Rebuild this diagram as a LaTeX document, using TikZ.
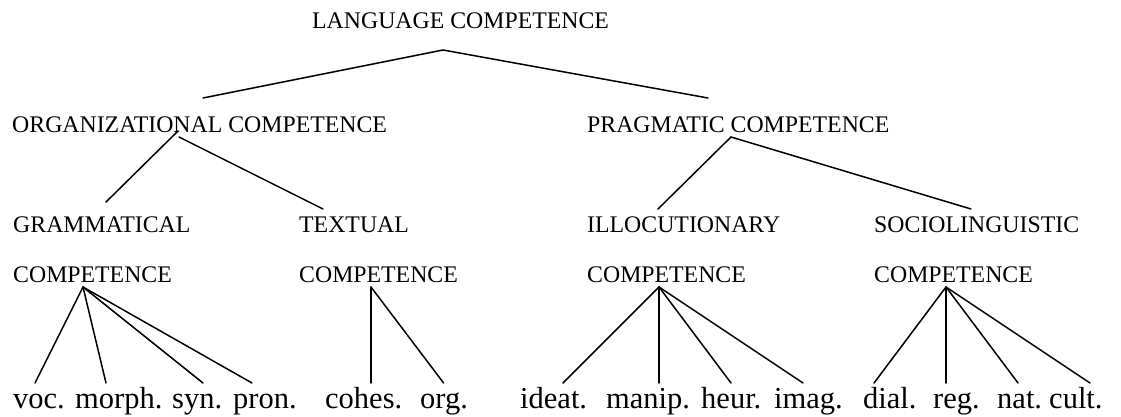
\documentclass[tikz,border=0pt]{standalone}
\usepackage{fontspec}
\setmainfont{Liberation Serif}
\tikzset{
  head/.style={anchor=base west, inner sep=0pt, font=\fontsize{23.8}{28}\selectfont},
  leaf/.style={anchor=base west, inner sep=0pt, font=\fontsize{30.5}{36}\selectfont},
  branch/.style={line width=1.5pt, line cap=round, line join=miter}
}
\begin{document}
\begin{tikzpicture}[x=1pt, y=-1pt]
  \useasboundingbox (0,0) rectangle (1121,417);

  % category labels
  \node[head] (lang) at (312,29)  {LANGUAGE COMPETENCE};
  \node[head] (orgc) at (12,132)  {ORGANIZATIONAL COMPETENCE};
  \node[head] (prag) at (587,132) {PRAGMATIC COMPETENCE};
  \node[head] (gram)  at (13,232)  {GRAMMATICAL};
  \node[head] (gramc) at (13,282)  {COMPETENCE};
  \node[head] (text)  at (299,232) {TEXTUAL};
  \node[head] (textc) at (299,282) {COMPETENCE};
  \node[head] (illo)  at (587,232) {ILLOCUTIONARY};
  \node[head] (illoc) at (587,282) {COMPETENCE};
  \node[head] (soci)  at (874,232) {SOCIOLINGUISTIC};
  \node[head] (socic) at (874,282) {COMPETENCE};

  % leaf abbreviations
  \node[leaf] (voc)   at (13,408)   {voc.};
  \node[leaf] (morph) at (75,408)   {morph.};
  \node[leaf] (syn)   at (172,408)  {syn.};
  \node[leaf] (pron)  at (233,408)  {pron.};
  \node[leaf] (cohes) at (325,408)  {cohes.};
  \node[leaf] (org)   at (420,408)  {org.};
  \node[leaf] (ideat) at (520,408)  {ideat.};
  \node[leaf] (manip) at (606,408)  {manip.};
  \node[leaf] (heur)  at (701,408)  {heur.};
  \node[leaf] (imag)  at (774,408)  {imag.};
  \node[leaf] (dial)  at (863,408)  {dial.};
  \node[leaf] (reg)   at (933,408)  {reg.};
  \node[leaf] (nat)   at (997,408)  {nat.};
  \node[leaf] (cult)  at (1049,408) {cult.};

  % branching points
  \coordinate (lang-v)  at (443,50);
  \coordinate (orgc-t)  at (203,98);
  \coordinate (prag-t)  at (708,98);
  \coordinate (orgc-v1) at (178,131);
  \coordinate (orgc-v2) at (179,137);
  \coordinate (gram-t)  at (106,202);
  \coordinate (text-t)  at (323,209);
  \coordinate (prag-v)  at (731,137);
  \coordinate (illo-t)  at (658,209);
  \coordinate (soci-t)  at (971,209);
  \coordinate (gram-v)  at (83,287);
  \coordinate (text-v)  at (371,287);
  \coordinate (illo-v)  at (659,287);
  \coordinate (soci-v)  at (946,287);
  \foreach \n/\x in {voc/35, morph/106, syn/203, pron/252, cohes/371, org/443.6,
                     ideat/563, manip/659, heur/731, imag/803,
                     dial/874, reg/946, nat/1018, cult/1090}
    \coordinate (\n-t) at (\x,383);

  % tree lines
  \draw[branch] (orgc-t) -- (lang-v) -- (prag-t);
  \draw[branch] (orgc-v1) -- (gram-t);
  \draw[branch] (orgc-v2) -- (text-t);
  \draw[branch] (illo-t) -- (prag-v) -- (soci-t);
  \foreach \n in {voc, morph, syn, pron}   \draw[branch] (gram-v) -- (\n-t);
  \foreach \n in {cohes, org}              \draw[branch] (text-v) -- (\n-t);
  \foreach \n in {ideat, manip, heur, imag} \draw[branch] (illo-v) -- (\n-t);
  \foreach \n in {dial, reg, nat, cult}    \draw[branch] (soci-v) -- (\n-t);
\end{tikzpicture}
\end{document}
